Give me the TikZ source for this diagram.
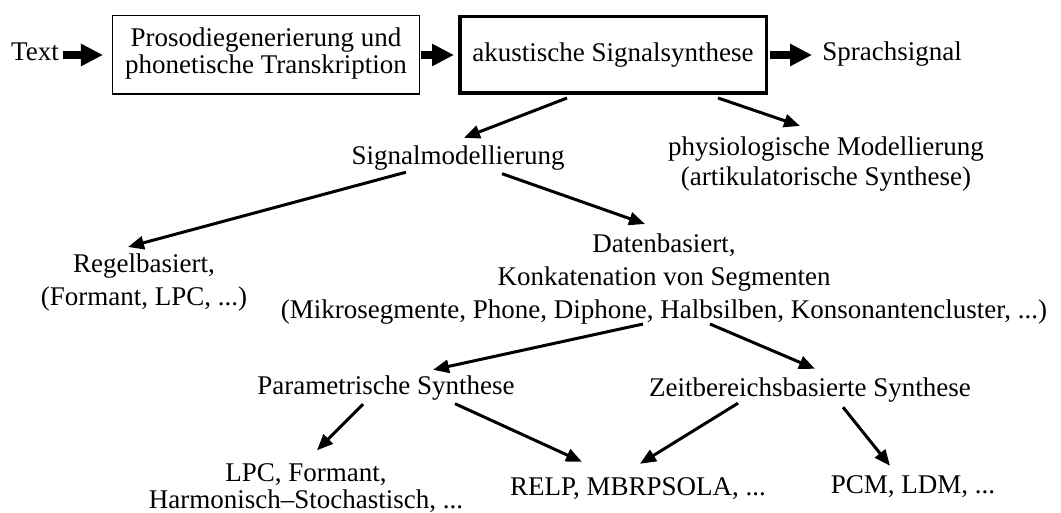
\documentclass[tikz,border=0pt]{standalone}
\usepackage{fontspec}
\setmainfont{Liberation Serif}
\usetikzlibrary{arrows.meta}
\tikzset{lbl/.style = {inner sep=0pt, align=center,
                       font=\fontsize{27bp}{31bp}\selectfont,
                       execute at begin node=\strut,
                       execute at end node=\strut},
         lsep/.style = {font=\fontsize{27bp}{#1}\selectfont},
         prosobox/.style = {lbl, lsep=27bp, draw, line width=1.5bp,
                            minimum width=306.5bp, minimum height=78.5bp},
         mainbox/.style = {lbl, draw, line width=3.5bp,
                           minimum width=306.5bp, minimum height=76.5bp},
         fatarrow/.style = {line width=8bp, -{Triangle[length=22bp, width=21bp]}},
         arr/.style = {line width=3bp, -{Triangle[length=16bp, width=13bp]}}}

\begin{document}
\begin{tikzpicture}[x=1bp, y=-1bp]
    \useasboundingbox (0, 0) rectangle (1061, 513);
    \node [lbl] (text) at (35, 54) {Text};
    \node [prosobox] (proso) at (266, 55) {Prosodiegenerierung und\\phonetische Transkription};
    \node [mainbox] (akust) at (613, 55) {akustische Signalsynthese};
    \node [lbl] (sprach) at (892, 54) {Sprachsignal};
    \node [lbl] (sigmod) at (458, 158) {Signalmodellierung};
    \node [lbl, lsep=30bp] (physio) at (826, 166) {physiologische Modellierung\\(artikulatorische Synthese)};
    \node [lbl, lsep=33bp] (regel) at (144, 285) {Regelbasiert,\\(Formant, LPC, ...)};
    \node [lbl, lsep=33bp] (daten) at (664, 281) {Datenbasiert,\\Konkatenation von Segmenten\\(Mikrosegmente, Phone, Diphone, Halbsilben, Konsonantencluster, ...)};
    \node [lbl] (param) at (386, 388) {Parametrische Synthese};
    \node [lbl] (zeit) at (810, 390) {Zeitbereichsbasierte Synthese};
    \node [lbl, lsep=27bp] (lpc) at (306, 490) {LPC, Formant,\\Harmonisch--Stochastisch, ...};
    \node [lbl] (relp) at (638, 489) {RELP, MBRPSOLA, ...};
    \node [lbl] (pcm) at (913, 487) {PCM, LDM, ...};
    \draw [fatarrow, shorten <=4bp, shorten >=9bp] (text.east |- proso.west) -- (proso.west);
    \draw [fatarrow, shorten <=1bp, shorten >=4bp] (proso.east) -- (proso.east -| akust.west);
    \draw [fatarrow, shorten <=2bp, shorten >=10bp] (akust.east) -- (akust.east -| sprach.west);
    \draw [arr] ([shift={(-46, 3)}]akust.south) -- ([shift={(6, -4.5)}]sigmod.north);
    \draw [arr] ([shift={(105, 3)}]akust.south) -- ([shift={(-26, -11)}]physio.north);
    \draw [arr] ([shift={(-52, -1.5)}]sigmod.south) -- ([shift={(-16, -7)}]regel.north);
    \draw [arr] ([shift={(44, 0)}]sigmod.south) -- ([shift={(-19, -9.5)}]daten.north);
    \draw [arr] ([shift={(-21, -4.5)}]daten.south) -- ([shift={(47, -2.5)}]param.north);
    \draw [arr] ([shift={(46, -4.5)}]daten.south) -- ([shift={(5, -5.5)}]zeit.north);
    \draw [arr] ([shift={(-23, 0.5)}]param.south) -- ([shift={(11, -13)}]lpc.north);
    \draw [arr] ([shift={(69, 0)}]param.south) -- ([shift={(-56, -11.5)}]relp.north);
    \draw [arr] ([shift={(-72, -2.5)}]zeit.south) -- ([shift={(2, -9.5)}]relp.north);
    \draw [arr] ([shift={(33, 1.5)}]zeit.south) -- ([shift={(-23, -5.5)}]pcm.north);
\end{tikzpicture}
\end{document}
